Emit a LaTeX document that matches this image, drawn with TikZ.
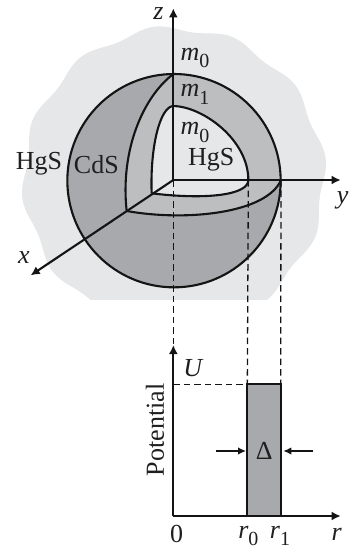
\documentclass[tikz,border=0pt]{standalone}
\usepackage{fontspec}
\setmainfont{Liberation Serif}
\usetikzlibrary{arrows.meta}
\definecolor{bgc}{HTML}{E6E7E8}
\definecolor{cutc}{HTML}{BCBEC0}
\definecolor{darkc}{HTML}{A7A9AC}
\newcommand{\subd}[1]{\raisebox{-0.28em}{\fontsize{20}{20}\selectfont #1}}
\tikzset{
  edge/.style={line width=2.1pt,black!92},
  axis/.style={line width=2.1pt,black!92,-{Latex[length=9pt,width=9pt]}},
  guide/.style={line width=1.3pt,black!92,dash pattern=on 6.5pt off 4pt},
  dimarrow/.style={line width=1.4pt,black!92,-{Latex[length=8pt,width=7.5pt]}},
  lab/.style={inner sep=0pt,font=\fontsize{26}{30}\selectfont,text=black!88},
  mlab/.style={inner sep=0pt,font=\fontsize{26}{30}\selectfont\itshape,text=black!88}
}
\begin{document}
\begin{tikzpicture}[x=0.33333pt,y=-0.33333pt]
\useasboundingbox (0,0) rectangle (1047,1656);
\coordinate (C) at (522,542);
\coordinate (O) at (520,540);
\coordinate (Ztop) at (520,222);
\coordinate (Zin) at (520,318);
\coordinate (Yout) at (843,540);
\coordinate (Yin) at (745,540);
\coordinate (Xout) at (380,633);
\coordinate (Xin) at (455,580);
\coordinate (ZEnd) at (520,25);
\coordinate (YEnd) at (1022,540);
\coordinate (XEnd) at (92,826);
\coordinate (B) at (520,1548);
\coordinate (ZP) at (520,1035);
\coordinate (RP) at (1022,1548);
\coordinate (UL) at (520,1153);
\coordinate (R0T) at (742,1153);
\coordinate (R1T) at (842,1153);
\coordinate (R0B) at (742,1548);
\coordinate (R1B) at (842,1548);
% background
\begin{scope}
\clip (0,0) rectangle (1047,897);
\fill[bgc] plot[smooth cycle,domain=0:357,samples=120] ({522+(450+9*cos(12*\x+90))*cos(\x)},{535+(450+9*cos(12*\x+90))*sin(\x)});
\end{scope}
% sphere
\fill[darkc] (C) circle (320);
\fill[cutc] (Ztop) .. controls (430,290) and (360,450) .. (Xout)
  .. controls (560,665) and (800,640) .. (Yout)
  arc[start angle=0,end angle=-90,radius=320] -- cycle;
\fill[bgc] (Zin) .. controls (610,320) and (745,420) .. (Yin)
  .. controls (745,585) and (620,600) .. (Xin)
  .. controls (450,440) and (480,320) .. (Zin) -- cycle;
% dashed guides
\draw[guide] (O) -- (ZP);
\draw[guide] (Yin) -- (R0T);
\draw[guide] (Yout) -- (R1T);
% curves
\draw[edge] (C) circle (320);
\draw[edge] (Ztop) .. controls (430,290) and (360,450) .. (Xout);
\draw[edge] (Xout) .. controls (560,665) and (800,640) .. (Yout);
\draw[edge] (Zin) .. controls (610,320) and (745,420) .. (Yin);
\draw[edge] (Yin) .. controls (745,585) and (620,600) .. (Xin);
\draw[edge] (Xin) .. controls (450,440) and (480,320) .. (Zin);
% axes
\draw[axis] (O) -- (ZEnd);
\draw[axis] (O) -- (YEnd);
\draw[axis] (O) -- (XEnd);
% potential
\fill[darkc] (R0T) rectangle (R1B);
\draw[guide] (UL) -- (R0T);
\draw[edge] (R0B) -- (R0T) -- (R1T) -- (R1B);
\draw[axis] (B) -- (ZP);
\draw[axis] (B) -- (RP);
\draw[line width=2.8pt,black!92] (R0B) -- (R1B);
% labels
\node[mlab] (lz) at (475,40) {z};
\node[mlab] (ly) at (1028,600) {y};
\node[mlab] (lx) at (72,772) {x};
\node[mlab,anchor=west] (m0a) at (541,173) {m\subd{\upshape 0}};
\node[mlab,anchor=west] (m1) at (541,283) {m\subd{\upshape 1}};
\node[mlab,anchor=west] (m0b) at (541,397) {m\subd{\upshape 0}};
\node[lab] (hgsa) at (117,492) {HgS};
\node[lab] (cds) at (289,495) {CdS};
\node[lab] (hgsb) at (634,480) {HgS};
\node[mlab] (lu) at (578,1105) {U};
\node[lab,rotate=90] (pot) at (465,1290) {Potential};
\node[lab] (delta) at (793,1353) {Δ};
\node[lab] (zero) at (530,1603) {0};
\node[mlab] (r0) at (745,1608) {r\subd{\upshape 0}};
\node[mlab] (r1) at (840,1608) {r\subd{\upshape 1}};
\node[mlab] (rr) at (1010,1603) {r};
\coordinate (AL) at (647,1353);
\coordinate (ALe) at (738,1353);
\coordinate (AR) at (940,1353);
\coordinate (ARe) at (850,1353);
\draw[dimarrow] (AL) -- (ALe);
\draw[dimarrow] (AR) -- (ARe);
\end{tikzpicture}
\end{document}
